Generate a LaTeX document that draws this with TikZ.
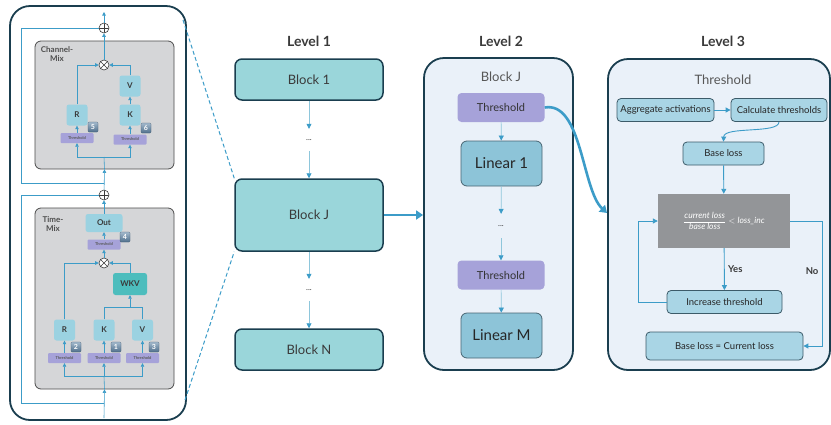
\documentclass[tikz,border=0pt]{standalone}
\usepackage{fontspec}
\setmainfont{Lato}
\usetikzlibrary{arrows.meta,positioning,calc}
\definecolor{navy}{HTML}{1A3E4F}
\definecolor{flow}{HTML}{3C9CC8}
\definecolor{faint}{HTML}{8EC6DB}
\definecolor{ink}{HTML}{3A3A3A}
\definecolor{blockfill}{HTML}{9AD6DA}
\definecolor{panelfill}{HTML}{EAF1F9}
\definecolor{lav}{HTML}{A6A2D9}
\definecolor{linfill}{HTML}{8DC4D8}
\definecolor{stepfill}{HTML}{A9D5E5}
\definecolor{condfill}{HTML}{939598}
\definecolor{mixfill}{HTML}{D5D6D8}
\definecolor{gatefill}{HTML}{9BD2E1}
\definecolor{wkvfill}{HTML}{4DBDBD}
\definecolor{badgetop}{HTML}{A3B9CC}
\definecolor{badgebot}{HTML}{4F6F8C}
\tikzset{
  panel/.style={draw=navy, line width=1.8pt, rounded corners=20pt},
  block/.style={draw=navy, line width=1.5pt, fill=blockfill, rounded corners=7pt, minimum width=148pt, text=ink, font=\fontsize{13}{15}\selectfont},
  leveltitle/.style={text=ink, font=\bfseries\fontsize{14}{16}\selectfont},
  sub/.style={text=ink!85, font=\fontsize{13}{15}\selectfont},
  dots/.style={text=ink, font=\fontsize{8}{9}\selectfont, minimum height=22pt, inner sep=0pt},
  thrbig/.style={fill=lav, rounded corners=4pt, minimum width=87pt, minimum height=29pt, text=black!80, font=\fontsize{11}{13}\selectfont},
  linear/.style={draw=navy!80, line width=0.8pt, fill=linfill, rounded corners=6pt, minimum width=81pt, minimum height=45pt, text=black!85, font=\fontsize{15}{17}\selectfont},
  stepbox/.style={draw=navy!85, line width=0.8pt, fill=stepfill, rounded corners=4pt, minimum height=23pt, inner sep=2pt, text=black!85, font=\fontsize{9.5}{11}\selectfont},
  cond/.style={fill=condfill, minimum width=132pt, minimum height=54pt, text=white, font=\fontsize{8.5}{10}\selectfont},
  yesno/.style={text=ink, font=\bfseries\fontsize{9.5}{11}\selectfont},
  mixbox/.style={draw=black!70, line width=0.8pt, fill=mixfill, rounded corners=6pt},
  mixlabel/.style={text=ink!90, font=\bfseries\fontsize{8}{9.5}\selectfont, align=center, inner sep=0pt},
  gate/.style={fill=gatefill, rounded corners=2.5pt, minimum size=21pt, inner sep=0pt, text=ink, font=\bfseries\fontsize{8}{9}\selectfont},
  thr/.style={fill=lav, rounded corners=1pt, minimum width=33pt, minimum height=10pt, inner sep=0pt, text=black!65, font=\bfseries\fontsize{4}{5}\selectfont},
  badge/.style={top color=badgetop, bottom color=badgebot, draw=badgebot!80!black, line width=0.3pt, rounded corners=1pt, minimum size=10pt, inner sep=0pt, text=white, font=\bfseries\fontsize{7}{8}\selectfont},
  oplus/.style={circle, draw=ink, fill=white, line width=0.6pt, minimum size=10pt, inner sep=0pt,
    path picture={\draw[ink, line width=0.6pt] (path picture bounding box.north) -- (path picture bounding box.south) (path picture bounding box.west) -- (path picture bounding box.east);}},
  otimes/.style={circle, draw=ink, fill=white, line width=0.6pt, minimum size=10pt, inner sep=0pt,
    path picture={\draw[ink, line width=0.6pt] (path picture bounding box.north west) -- (path picture bounding box.south east) (path picture bounding box.north east) -- (path picture bounding box.south west);}},
  tline/.style={flow, line width=0.6pt},
  tarr/.style={tline, -{Triangle[width=3.5pt,length=3.5pt]}},
  farr/.style={faint, line width=0.7pt, -{Triangle[width=5pt,length=5pt,color=flow]}},
  arr/.style={flow, line width=0.9pt, -{Triangle[width=5pt,length=5pt]}},
  bigarr/.style={flow, line width=2.6pt, -{Triangle[width=9pt,length=7pt]}},
  zoomline/.style={flow, line width=1pt, dash pattern=on 4pt off 2.5pt}
}
\begin{document}
\begin{tikzpicture}[x=1pt, y=-1pt]
\useasboundingbox (0,0) rectangle (831,424);
% zoomed block
\coordinate (zt) at (183,20);
\coordinate (zb) at (185,400);
\node[panel, fill=white, minimum width=176, minimum height=414] (p1) at (98,213) {};
\node[mixbox, minimum width=139, minimum height=128] (cmix) at (104.5,105) {};
\node[mixlabel, anchor=north] (cmixlbl) at (57,46) {Channel-\\Mix};
\node[mixbox, minimum width=139, minimum height=181] (tmix) at (104.5,298.5) {};
\node[mixlabel, anchor=north] (tmixlbl) at (53,216) {Time-\\Mix};
\node[oplus] (cadd) at (104,28) {};
\node[otimes] (cmul) at (104,65) {};
\node[gate] (cr) at (77,115) {R};
\node[gate] (ck) at (130,115) {K};
\node[gate] (cv) at (130,86) {V};
\node[thr] (cthr5) at (77,138) {Threshold};
\node[thr] (cthr6) at (130,139.5) {Threshold};
\node[badge] (b5) at (93,127) {5};
\node[badge] (b6) at (146,128) {6};
\coordinate (cout) at (104,12);
\coordinate (cres) at (104,183);
\coordinate (cjoin) at (104,157);
\node[oplus] (tadd) at (104,195) {};
\node[gate, minimum width=37, minimum height=18] (tout) at (104,223) {Out};
\node[thr] (tthr4) at (104,244.5) {Threshold};
\node[badge] (b4) at (125,237) {4};
\node[otimes] (tmul) at (104,263) {};
\node[gate, fill=wkvfill, minimum width=34, minimum height=22] (wkv) at (130,284) {WKV};
\node[gate] (tr) at (64.5,330) {R};
\node[gate] (tk) at (104,330) {K};
\node[gate] (tv) at (142.5,330) {V};
\node[thr] (tthr2) at (64.5,358) {Threshold};
\node[thr] (tthr1) at (104,358) {Threshold};
\node[thr] (tthr3) at (142.5,358) {Threshold};
\node[badge] (b2) at (76,347) {2};
\node[badge] (b1) at (116,347) {1};
\node[badge] (b3) at (154,347) {3};
\coordinate (tin) at (104,418);
\coordinate (tres) at (104,403);
\coordinate (tjoin) at (104,376);
\coordinate (kvjoin) at (130,307);
\draw[tarr] (tin) -- (tmix.south);
\draw[tline] (tres) -- ++(-83,0) |- (tadd);
\draw[tline] (tmix.south) -- (tjoin);
\draw[tarr] (tjoin) -| (tthr2);
\draw[tarr] (tjoin) -- (tthr1);
\draw[tarr] (tjoin) -| (tthr3);
\foreach \a/\b in {tthr2/tr, tthr1/tk, tthr3/tv, tmul/tthr4, tthr4/tout, tout/tadd, tadd/cmix.south}
  \draw[tarr] (\a) -- (\b);
\draw[tline] (tk) |- (kvjoin);
\draw[tline] (tv) |- (kvjoin);
\draw[tarr] (kvjoin) -- (wkv);
\draw[tarr] (tr) |- (tmul);
\draw[tarr] (wkv) |- (tmul);
\draw[tline] (cres) -- ++(-83,0) |- (cadd);
\draw[tline] (cmix.south) -- (cjoin);
\draw[tarr] (cjoin) -| (cthr5);
\draw[tarr] (cjoin) -| (cthr6);
\foreach \a/\b in {cthr5/cr, cthr6/ck, ck/cv, cmul/cadd, cadd/cout}
  \draw[tarr] (\a) -- (\b);
\draw[tarr] (cr) |- (cmul);
\draw[tarr] (cv) |- (cmul);
% level 1
\node[leveltitle] (t1) at (309,41) {Level 1};
\node[block, minimum height=41] (bk1) at (309,79.5) {Block 1};
\node[dots] (d1) at (309,140) {...};
\node[block, minimum height=72] (bkj) at (309,215) {Block J};
\node[dots] (d2) at (309,290) {...};
\node[block, minimum height=41] (bkn) at (309,349.5) {Block N};
\foreach \a/\b in {bk1/d1, d1/bkj, bkj/d2, d2/bkn}
  \draw[farr] (\a) -- (\b);
\draw[zoomline] (zt) -- (bkj.north west);
\draw[zoomline] (zb) -- (bkj.south west);
% level 2
\node[leveltitle] (t2) at (501,41) {Level 2};
\node[panel, fill=panelfill, minimum width=149, minimum height=312] (p2) at (498.5,214) {};
\node[sub] (p2name) at (501,77) {Block J};
\node[thrbig] (th1) at (501,107.5) {Threshold};
\node[linear] (lin1) at (501.5,163.5) {Linear 1};
\node[dots, minimum height=24] (d3) at (501,226) {...};
\node[thrbig] (th2) at (501,275) {Threshold};
\node[linear] (linm) at (501.5,335.5) {Linear M};
\foreach \a/\b in {th1/lin1, lin1/d3, d3/th2, th2/linm}
  \draw[farr] (\a) -- (\b);
\draw[bigarr] (bkj.east) -- (bkj.east -| p2.west);
% level 3
\node[leveltitle] (t3) at (723,41) {Level 3};
\node[panel, fill=panelfill, minimum width=222, minimum height=311] (p3) at (719,214.5) {};
\node[sub] (p3name) at (723,80) {Threshold};
\node[stepbox, minimum width=97] (agg) at (665.5,110) {Aggregate activations};
\node[stepbox, minimum width=96] (calc) at (779,110) {Calculate thresholds};
\node[stepbox, minimum width=81] (base) at (723.5,153.5) {Base loss};
\node[cond] (test) at (724,221) {$\displaystyle\frac{\textit{current loss}}{\textit{base loss}} < \textit{loss\_inc}$};
\node[stepbox, minimum width=115] (inc) at (724.5,302) {Increase threshold};
\node[stepbox, minimum width=157, minimum height=28] (final) at (724.5,346) {Base loss = Current loss};
\coordinate (l3in) at (607,213);
\draw[bigarr] (th1.east) .. controls (582,101) and (582,190) .. (l3in);
\draw[arr] (agg) -- (calc);
\draw[arr] (calc.south) .. controls (779,134) and (724,126) .. (base.north);
\draw[arr] (base) -- (test);
\draw[arr] (test) -- node[right, yesno] {Yes} (inc);
\draw[arr] (inc.west) -- ++(-28,0) |- (test.west);
\draw[arr] (test.east) -- ++(32,0) |- node[pos=0.2, left, yesno] {No} (final.east);
\end{tikzpicture}
\end{document}
